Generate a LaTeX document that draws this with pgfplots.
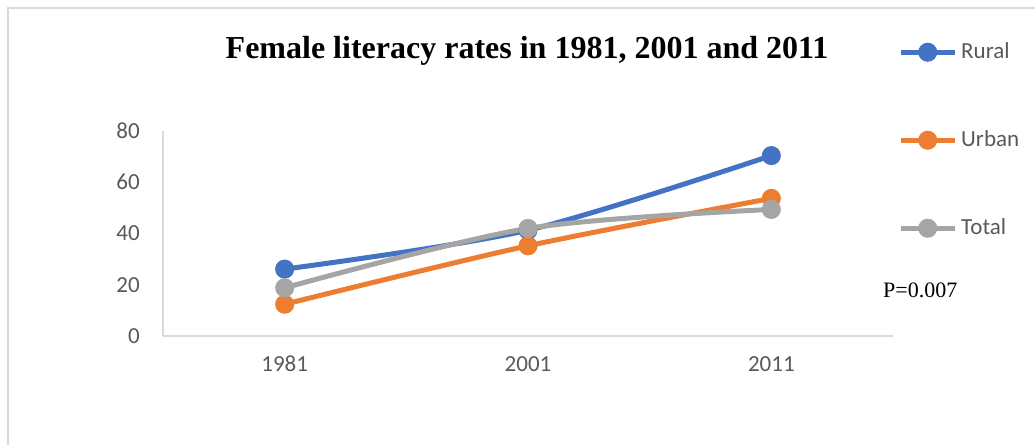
\documentclass[border=0pt]{standalone}
\usepackage{pgfplots}
\pgfplotsset{compat=1.18}
\usepackage{fontspec}
\setmainfont{Liberation Serif}
\newfontfamily\calfont{Carlito}

\definecolor{rural}{HTML}{4472C4}
\definecolor{urban}{HTML}{ED7D31}
\definecolor{total}{HTML}{A5A5A5}
\definecolor{axisgray}{HTML}{D9D9D9}
\definecolor{labelgray}{HTML}{595959}

\begin{document}
\begin{tikzpicture}
\path[use as bounding box] (0pt,0pt) rectangle (1035pt,-444pt);
% outer chart frame
\draw[axisgray, line width=1.5pt] (8pt,-460pt) -- (8pt,-8pt) -- (1050pt,-8pt);

\begin{axis}[
  at={(163pt,-336pt)}, anchor=south west,
  scale only axis, width=730pt, height=205pt,
  xmin=-0.5, xmax=2.5, ymin=0, ymax=80,
  axis x line*=bottom, axis y line*=left,
  axis line style={axisgray, line width=1.5pt, -},
  xtick={0,1,2}, xticklabels={1981,2001,2011},
  ytick={0,20,40,60,80},
  major tick length=0pt,
  /pgf/number format/assume math mode=true,
  tick label style={font=\calfont\fontsize{23}{25}\selectfont, text=labelgray, inner sep=0pt},
  yticklabel style={anchor=east, xshift=-23pt},
  xticklabel style={anchor=north, yshift=-20pt},
  every axis plot/.append style={line width=5pt, mark=*, mark size=7pt, smooth},
  legend style={at={(1.00685,1.434)}, anchor=north west, draw=none, fill=none,
    inner sep=0pt, row sep=68pt, column sep=4pt,
    font=\calfont\fontsize{23}{26}\selectfont, text=labelgray,
    nodes={inner sep=0pt, text height=16pt, text depth=4pt}},
  legend cell align=left,
  legend image code/.code={\draw[mark repeat=2, mark phase=2, #1] plot coordinates {(0pt,0pt) (27pt,0pt) (54pt,0pt)};},
  clip=false,
]
\addplot[rural, mark options={fill=rural, draw=rural}] coordinates {(0,26.1) (1,41.3) (2,70.4)};
\addlegendentry{Rural}
\addplot[urban, mark options={fill=urban, draw=urban}] coordinates {(0,12.4) (1,35.2) (2,53.7)};
\addlegendentry{Urban}
\addplot[total, mark options={fill=total, draw=total}] coordinates {(0,18.8) (1,42.0) (2,49.4)};
\addlegendentry{Total}
\end{axis}

\node[anchor=base, inner sep=0pt, font=\bfseries\fontsize{32}{36}\selectfont] at (527pt,-59pt) {Female literacy rates in 1981, 2001 and 2011};
\node[anchor=base west, inner sep=0pt, font=\fontsize{22}{24}\selectfont] at (883pt,-297pt) {P=0.007};
\end{tikzpicture}
\end{document}
